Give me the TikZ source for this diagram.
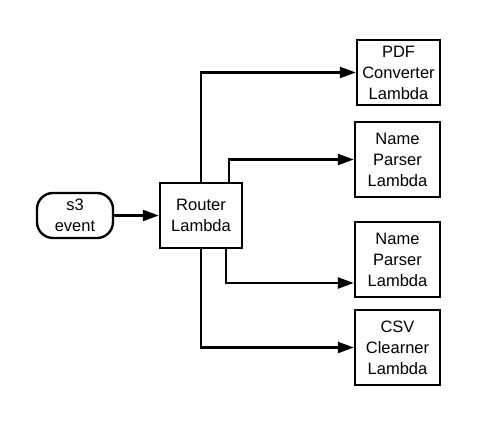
\documentclass[tikz,border=0pt]{standalone}
\usepackage{fontspec}
\setmainfont{Liberation Sans}
\usetikzlibrary{arrows.meta}

\begin{document}
\begin{tikzpicture}[x=1pt, y=-1pt, line width=2.4pt,
		lambda/.style={draw, align=center, inner sep=0pt, minimum width=85pt, minimum height=75pt, font=\fontsize{16.5}{21}\selectfont},
		flow/.style={-{Triangle[length=16pt, width=11pt]}}]
		\useasboundingbox (0, 0) rectangle (480, 425);
		\node[lambda, rounded corners=16pt, minimum width=76pt, minimum height=45pt] (event) at (75, 215.5) {s3\\event};
		\node[lambda, minimum width=82pt, minimum height=65pt] (router) at (201, 215.5) {Router\\Lambda};
		\node[lambda, minimum width=83pt, minimum height=65pt] (pdf) at (398.5, 72.5) {PDF\\Converter\\Lambda};
		\node[lambda] (name1) at (397.5, 159.5) {Name\\Parser\\Lambda};
		\node[lambda] (name2) at (397.5, 259.5) {Name\\Parser\\Lambda};
		\node[lambda] (csv) at (397.5, 347.5) {CSV\\Clearner\\Lambda};
		\draw[flow] (event) -- (router);
		\draw[flow] (router.north) |- (pdf);
		\draw[flow] ([xshift=28pt]router.north) |- (name1);
		\draw[flow] ([xshift=25pt]router.south) |- ([yshift=-23.5pt]name2.west);
		\draw[flow] (router.south) |- (csv);
	\end{tikzpicture}
\end{document}
